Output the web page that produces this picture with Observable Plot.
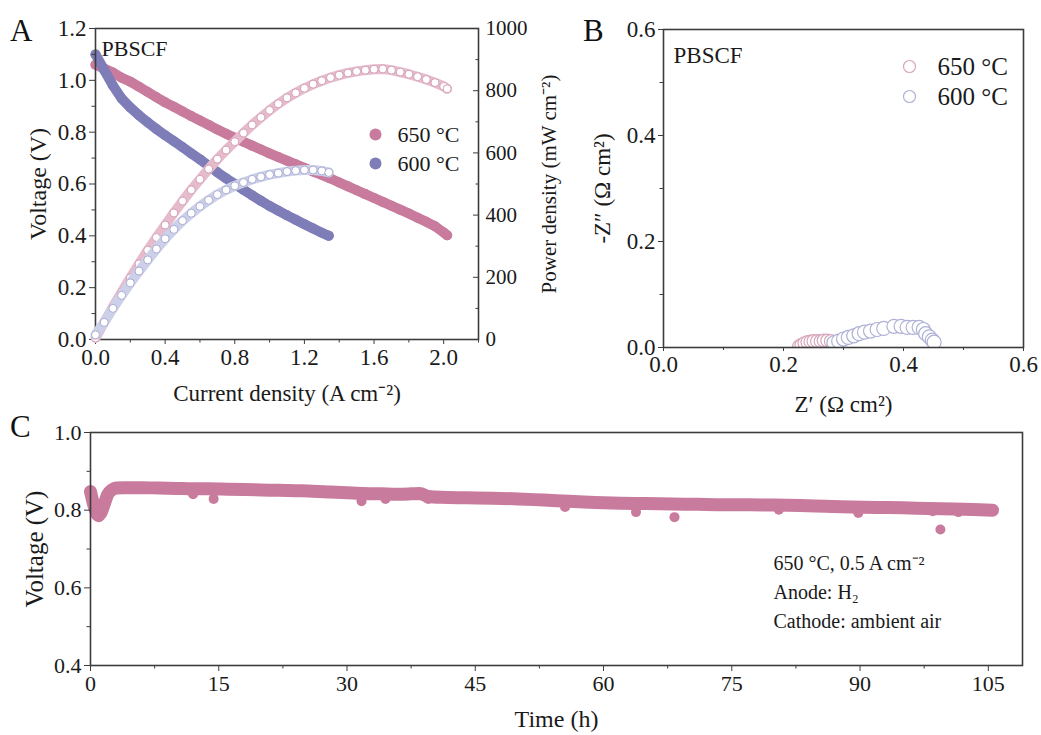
<!DOCTYPE html>
<html><head><meta charset="utf-8">
<script src="https://cdn.jsdelivr.net/npm/d3@7"></script>
<script src="https://cdn.jsdelivr.net/npm/@observablehq/plot@0.6"></script>
<style>
body{margin:0;background:#fff;}
#fig{position:relative;width:1041px;height:735px;overflow:hidden;background:#fff;font-family:"Liberation Serif","Times New Roman",serif;}
.panel{position:absolute;}
.letter{position:absolute;font-size:31px;color:#111;line-height:1;}
svg{overflow:visible}
</style></head><body>
<div id="fig">
  <div class="panel" id="pA" style="left:0;top:0"></div>
  <div class="panel" id="pA2" style="left:0;top:0"></div>
  <div class="panel" id="pB" style="left:580px;top:0"></div>
  <div class="panel" id="pC" style="left:0;top:420px"></div>
  <div class="letter" style="left:10px;top:15px">A</div>
  <div class="letter" style="left:583px;top:15px">B</div>
  <div class="letter" style="left:10px;top:411px">C</div>
</div>
<script>
// ---------- Panel A data ----------
const current650 = [0,0.05,0.1,0.15,0.2,0.25,0.3,0.35,0.4,0.45,0.5,0.55,0.6,0.65,0.7,0.75,0.8,0.85,0.9,0.95,1.0,1.05,1.1,1.15,1.2,1.25,1.3,1.35,1.4,1.45,1.5,1.55,1.6,1.65,1.7,1.75,1.8,1.85,1.9,1.95,2.0,2.02];
const voltage650 = [1.06,1.045,1.03,1.01,0.995,0.975,0.955,0.935,0.915,0.898,0.88,0.862,0.845,0.828,0.81,0.794,0.778,0.763,0.748,0.733,0.718,0.704,0.69,0.676,0.662,0.648,0.635,0.621,0.606,0.591,0.576,0.561,0.546,0.531,0.516,0.501,0.486,0.47,0.454,0.437,0.413,0.402];
const power650 = [5,55,105,152,198,243,287,328,368,407,445,481,515,548,580,609,636,664,690,714,737,758,777,793,808,821,832,842,850,857,862,866,869,870,866,860,853,845,836,826,814,806];
const current600 = [0,0.05,0.1,0.15,0.2,0.25,0.3,0.35,0.4,0.45,0.5,0.55,0.6,0.65,0.7,0.75,0.8,0.85,0.9,0.95,1.0,1.05,1.1,1.15,1.2,1.25,1.3,1.34];
const voltage600 = [1.10,1.04,0.98,0.93,0.895,0.865,0.838,0.812,0.788,0.765,0.742,0.718,0.695,0.67,0.645,0.622,0.600,0.578,0.556,0.535,0.515,0.497,0.479,0.462,0.445,0.428,0.412,0.400];
const power600 = [15,55,100,142,182,220,256,291,324,354,382,406,428,448,466,481,494,505,515,523,530,535,540,543,545,545,542,537];

// ---------- Panel B data ----------
const zre650 = [0.226,0.230,0.235,0.240,0.245,0.250,0.256,0.262,0.267,0.273,0.279];
const zim650 = [0.002,0.005,0.008,0.010,0.011,0.012,0.012,0.012,0.013,0.013,0.012];
const zre600 = [0.284,0.292,0.300,0.308,0.317,0.326,0.335,0.345,0.356,0.367,0.384,0.396,0.406,0.416,0.426,0.433,0.437,0.443,0.448,0.451];
const zim600 = [0.009,0.012,0.016,0.019,0.022,0.026,0.029,0.031,0.034,0.036,0.040,0.040,0.038,0.038,0.038,0.034,0.026,0.020,0.014,0.010];

// ---------- Panel C data ----------
const timeC = [0,0.3,0.6,0.9,1.2,1.6,2.0,2.5,3,4,6,8,10,12,14,16,18,20,22,24,26,28,30,32,34,36,37.5,38.5,39.5,41,44,47,50,53,56,59,62,65,68,71,74,77,80,83,86,89,92,95,98,101,104,105.5];
const voltageC = [0.848,0.820,0.798,0.787,0.792,0.815,0.840,0.852,0.857,0.858,0.858,0.857,0.856,0.855,0.855,0.854,0.853,0.852,0.851,0.850,0.849,0.847,0.845,0.843,0.842,0.841,0.842,0.843,0.835,0.833,0.832,0.831,0.829,0.826,0.823,0.820,0.818,0.817,0.816,0.815,0.814,0.814,0.813,0.812,0.810,0.808,0.807,0.806,0.804,0.803,0.801,0.800];
const dipTime = [1.0,12,14.4,31.7,34.5,39.5,55.5,63.8,68.3,80.5,89.8,98.5,99.4,101.5];
const dipVoltage = [0.782,0.841,0.829,0.823,0.829,0.829,0.808,0.795,0.782,0.801,0.793,0.797,0.750,0.795];

// tick values
const xTicksA = [0,0.4,0.8,1.2,1.6,2.0], xMinorA = [0.2,0.6,1.0,1.4,1.8,2.2];
const yTicksA = [0,0.2,0.4,0.6,0.8,1.0,1.2], yMinorA = [0.1,0.3,0.5,0.7,0.9,1.1];
const pTicksA = [0,200,400,600,800,1000], pMinorA = [100,300,500,700,900];
const ticksB = [0,0.2,0.4,0.6], minorB = [0.1,0.3,0.5];
const xTicksC = [0,15,30,45,60,75,90,105], xMinorC = [7.5,22.5,37.5,52.5,67.5,82.5,97.5];
const yTicksC = [0.4,0.6,0.8,1.0], yMinorC = [0.5,0.7,0.9];

const temps = ["650 °C","600 °C"];

// build tables
const vi650 = current650.map((i,k)=>({i, v: voltage650[k]}));
const vi600 = current600.map((i,k)=>({i, v: voltage600[k]}));
const p650 = current650.map((i,k)=>({i, p: power650[k]}));
const p600 = current600.map((i,k)=>({i, p: power600[k]}));
const eis650 = zre650.map((x,k)=>({x, y: zim650[k]}));
const eis600 = zre600.map((x,k)=>({x, y: zim600[k]}));
const stab = timeC.map((t,k)=>({t, v: voltageC[k]}));
const dips = dipTime.map((t,k)=>({t, v: dipVoltage[k]}));

const font = '"Liberation Serif","Times New Roman",serif';
const ax = "#3c3c3c";
const pink = "#c97b9d", purple = "#7e7db8";
const pinkLight = "#e6bccd", pinkEdge = "#d49fb6";
const lavLight = "#ccd0e8", lavEdge = "#a9acd3";
const f1 = d3.format(".1f");
const fd = d3.format("d");
const baseStyle = {fontFamily: font, fontSize: "24px", color: "#1a1a1a", background: "transparent", overflow: "visible"};

// ---------- Panel A (voltage) ----------
const plotA = Plot.plot({
  width: 580, height: 420,
  marginLeft: 95, marginRight: 102, marginTop: 28, marginBottom: 81,
  x: {domain: [0, 2.2]},
  y: {domain: [0, 1.2]},
  style: baseStyle,
  marks: [
    Plot.line(vi650, {x: "i", y: "v", stroke: pink, strokeWidth: 10, strokeLinecap: "round"}),
    Plot.dot(vi650, {x: "i", y: "v", r: 5, fill: pink}),
    Plot.line(vi600, {x: "i", y: "v", stroke: purple, strokeWidth: 10, strokeLinecap: "round"}),
    Plot.dot(vi600, {x: "i", y: "v", r: 5, fill: purple}),
    Plot.axisY({ticks: yTicksA, tickFormat: f1, tickSize: 6, tickPadding: 3, stroke: ax, label: null, fontSize: 23}),
    Plot.axisY({ticks: [], tickSize: 0, text: null, label: "Voltage (V)", labelAnchor: "center", labelOffset: 67, labelArrow: "none", fontSize: 24}),
    Plot.axisY({ticks: yMinorA, tickSize: 3.5, text: null, label: null, stroke: ax}),
    Plot.axisX({ticks: xTicksA, tickFormat: f1, tickSize: 5, tickPadding: 4, stroke: ax, label: "Current density (A cm⁻²)", labelAnchor: "center", labelOffset: 61, labelArrow: "none", fontSize: 23}),
    Plot.axisX({ticks: xMinorA, tickSize: 3.5, text: null, label: null, stroke: ax}),
    Plot.frame({stroke: ax, strokeWidth: 1.6}),
    Plot.text(["PBSCF"], {text: d => d, frameAnchor: "top-left", dx: 6, dy: 20, textAnchor: "start", lineAnchor: "middle", fontSize: 22}),
    Plot.dot([temps[0]], {frameAnchor: "top-left", dx: 280, dy: 106, r: 6, fill: pink}),
    Plot.dot([temps[1]], {frameAnchor: "top-left", dx: 280, dy: 135, r: 6, fill: purple}),
    Plot.text([temps[0]], {text: d => d, frameAnchor: "top-left", dx: 302, dy: 106, textAnchor: "start", lineAnchor: "middle", fontSize: 22}),
    Plot.text([temps[1]], {text: d => d, frameAnchor: "top-left", dx: 302, dy: 135, textAnchor: "start", lineAnchor: "middle", fontSize: 22})
  ]
});
document.getElementById("pA").append(plotA);

// ---------- Panel A overlay (power density) ----------
const plotA2 = Plot.plot({
  width: 580, height: 420,
  marginLeft: 95, marginRight: 102, marginTop: 28, marginBottom: 81,
  x: {domain: [0, 2.2], axis: null},
  y: {domain: [0, 1000]},
  style: baseStyle,
  marks: [
    Plot.line(p650, {x: "i", y: "p", stroke: pinkLight, strokeWidth: 10, strokeLinecap: "round"}),
    Plot.dot(p650, {x: "i", y: "p", r: 4, fill: "white", stroke: pinkEdge, strokeWidth: 1}),
    Plot.line(p600, {x: "i", y: "p", stroke: lavLight, strokeWidth: 10, strokeLinecap: "round"}),
    Plot.dot(p600, {x: "i", y: "p", r: 4, fill: "white", stroke: lavEdge, strokeWidth: 1}),
    Plot.axisY({anchor: "right", ticks: pTicksA, tickFormat: fd, tickSize: -6, tickPadding: 13, stroke: ax, label: "Power density (mW cm⁻²)", labelAnchor: "center", labelOffset: 77, labelArrow: "none", fontSize: 21}),
    Plot.axisY({anchor: "right", ticks: pMinorA, tickSize: -3.5, text: null, label: null, stroke: ax})
  ]
});
document.getElementById("pA2").append(plotA2);

// ---------- Panel B ----------
const plotB = Plot.plot({
  width: 461, height: 420,
  marginLeft: 83, marginRight: 18, marginTop: 29, marginBottom: 73,
  x: {domain: [0, 0.6]},
  y: {domain: [0, 0.6]},
  style: baseStyle,
  marks: [
    Plot.dot(eis650, {x: "x", y: "y", r: 6.5, fill: "white", stroke: "#d8a6bb", strokeWidth: 1.2, clip: true}),
    Plot.dot(eis600, {x: "x", y: "y", r: 7, fill: "white", stroke: "#aeb1d5", strokeWidth: 1.2, clip: true}),
    Plot.axisY({ticks: ticksB, tickFormat: f1, tickSize: 5, tickPadding: 3, stroke: ax, label: "-Z″ (Ω cm²)", labelAnchor: "center", labelOffset: 70, labelArrow: "none", fontSize: 23}),
    Plot.axisY({ticks: minorB, tickSize: 3.5, text: null, label: null, stroke: ax}),
    Plot.axisX({ticks: ticksB, tickFormat: f1, tickSize: 4, tickPadding: 4, stroke: ax, label: "Z′ (Ω cm²)", labelAnchor: "center", labelOffset: 64, labelArrow: "none", fontSize: 23}),
    Plot.axisX({ticks: minorB, tickSize: 3, text: null, label: null, stroke: ax}),
    Plot.frame({stroke: ax, strokeWidth: 1.6}),
    Plot.text(["PBSCF"], {text: d => d, frameAnchor: "top-left", dx: 10, dy: 26, textAnchor: "start", lineAnchor: "middle", fontSize: 23}),
    Plot.dot([temps[0]], {frameAnchor: "top-left", dx: 246, dy: 37, r: 6, fill: "white", stroke: "#d8a6bb", strokeWidth: 1.2}),
    Plot.dot([temps[1]], {frameAnchor: "top-left", dx: 246, dy: 67, r: 6, fill: "white", stroke: "#aeb1d5", strokeWidth: 1.2}),
    Plot.text([temps[0]], {text: d => d, frameAnchor: "top-left", dx: 274, dy: 37, textAnchor: "start", lineAnchor: "middle", fontSize: 25}),
    Plot.text([temps[1]], {text: d => d, frameAnchor: "top-left", dx: 274, dy: 67, textAnchor: "start", lineAnchor: "middle", fontSize: 25})
  ]
});
document.getElementById("pB").append(plotB);

// ---------- Panel C ----------
const annotation = "650 °C, 0.5 A cm⁻²\nAnode: H₂\nCathode: ambient air";
const plotC = Plot.plot({
  width: 1041, height: 315,
  marginLeft: 90, marginRight: 19, marginTop: 12, marginBottom: 70,
  x: {domain: [0, 109]},
  y: {domain: [0.4, 1.0]},
  style: baseStyle,
  marks: [
    Plot.line(stab, {x: "t", y: "v", stroke: pink, strokeWidth: 13, strokeLinecap: "round", strokeLinejoin: "round", curve: "monotone-x"}),
    Plot.dot(dips, {x: "t", y: "v", r: 5, fill: pink}),
    Plot.axisY({ticks: yTicksC, tickFormat: f1, tickSize: 6, tickPadding: 3, stroke: ax, label: null, fontSize: 22}),
    Plot.axisY({ticks: [], tickSize: 0, text: null, label: "Voltage (V)", labelAnchor: "center", labelOffset: 65, labelArrow: "none", fontSize: 25}),
    Plot.axisY({ticks: yMinorC, tickSize: 3.5, text: null, label: null, stroke: ax}),
    Plot.axisX({ticks: xTicksC, tickSize: 6, tickPadding: 4, stroke: ax, label: null, fontSize: 22}),
    Plot.axisX({ticks: [], tickSize: 0, text: null, label: "Time (h)", labelAnchor: "center", labelOffset: 61, labelArrow: "none", fontSize: 24}),
    Plot.axisX({ticks: xMinorC, tickSize: 3.5, text: null, label: null, stroke: ax}),
    Plot.frame({stroke: ax, strokeWidth: 1.6}),
    Plot.text([annotation], {text: d => d, frameAnchor: "top-left", dx: 683, dy: 117, textAnchor: "start", lineAnchor: "top", lineHeight: 1.45, fontSize: 20})
  ]
});
document.getElementById("pC").append(plotC);
</script>
</body></html>
